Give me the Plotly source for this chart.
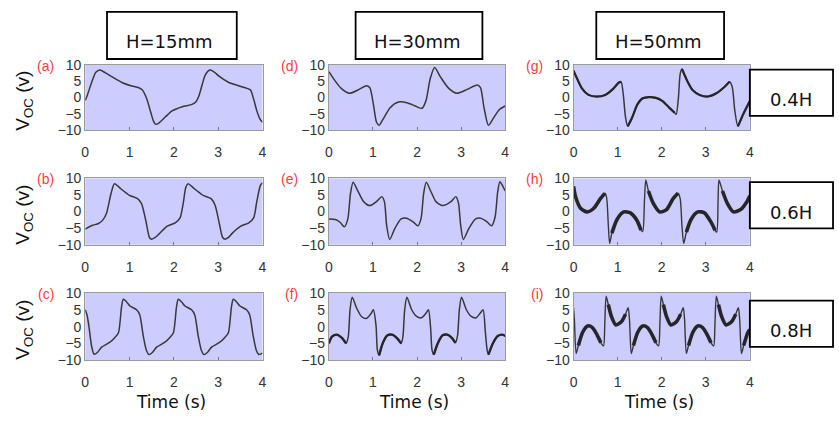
import plotly.graph_objects as go

W, H = 839, 427          # browser window (body margin removed by post_script below)

# ---------------- data ----------------
time_a = [0, 0.05, 0.15, 0.24, 0.33, 0.45, 0.61, 0.84, 1.03, 1.21, 1.29, 1.38, 1.48, 1.54, 1.59, 1.66,
          1.81, 1.96, 2.19, 2.41, 2.50, 2.56, 2.64, 2.71, 2.81, 2.92, 3.01, 3.24, 3.46, 3.65, 3.73, 3.80,
          3.87, 3.94, 4.0]
voc_a = [-0.9, 0.8, 4.8, 7.7, 8.4, 7.6, 6.3, 4.5, 3.6, 3.0, 2.3, -0.1, -4.6, -7.2, -8.2, -7.8,
         -5.9, -4.1, -2.8, -2.1, -1.3, 0.3, 4.0, 6.9, 8.4, 7.7, 6.6, 4.6, 3.6, 2.8, 2.3, -0.5,
         -4.0, -6.5, -7.6]

time_b = [0, 0.15, 0.30, 0.40, 0.48, 0.58, 0.66, 0.81, 1.0, 1.18, 1.27, 1.37, 1.45, 1.50, 1.58, 1.66,
          1.85, 2.03, 2.14, 2.21, 2.27, 2.32, 2.47, 2.66, 2.84, 2.93, 3.03, 3.10, 3.16, 3.24, 3.32,
          3.51, 3.69, 3.80, 3.87, 3.95, 4.0]
voc_b = [-5.3, -4.2, -3.6, -2.5, -0.5, 5.3, 8.4, 6.8, 4.9, 3.9, 2.4, -2.9, -7.8, -8.3, -7.8, -6.8,
         -4.4, -3.4, -1.9, 2.4, 7.3, 8.4, 6.8, 4.9, 3.9, 1.9, -3.9, -7.8, -8.3, -7.7, -6.5,
         -4.4, -3.4, -1.9, 2.9, 7.8, 8.7]

time_c = [0, 0.04, 0.09, 0.14, 0.20, 0.28, 0.37, 0.55, 0.67, 0.75, 0.82, 0.86, 0.93, 1.01, 1.16, 1.23,
          1.31, 1.38, 1.44, 1.52, 1.61, 1.79, 1.91, 1.99, 2.06, 2.10, 2.17, 2.25, 2.40, 2.47, 2.55,
          2.62, 2.68, 2.76, 2.85, 3.03, 3.15, 3.23, 3.30, 3.34, 3.41, 3.49, 3.64, 3.71, 3.79, 3.86,
          3.92, 4.0]
voc_c = [5.0, 3.5, -0.5, -5.5, -8.2, -7.6, -6.1, -4.7, -3.2, -1.8, 5.9, 8.1, 7.4, 6.1, 5.0, 3.5,
         -2.8, -7.0, -8.3, -7.6, -6.1, -4.7, -3.2, -1.8, 5.9, 8.1, 7.4, 6.1, 5.0, 3.5, -2.8,
         -7.0, -8.3, -7.6, -6.1, -4.7, -3.2, -1.8, 5.9, 8.1, 7.4, 6.1, 5.0, 3.5, -2.8, -7.0,
         -8.3, -7.9]

time_d = [0, 0.13, 0.28, 0.47, 0.66, 0.85, 0.93, 1.01, 1.08, 1.14, 1.23, 1.39, 1.58, 1.77, 1.96, 2.11,
          2.20, 2.30, 2.40, 2.53, 2.72, 2.91, 3.14, 3.37, 3.44, 3.52, 3.62, 3.72, 3.86, 4.0]
voc_d = [7.9, 5.3, 2.8, 1.3, 2.3, 3.6, 3.0, -2.1, -7.5, -8.5, -6.6, -3.1, -1.4, -1.6, -2.6, -3.3,
         -1.1, 5.8, 9.2, 6.3, 2.8, 1.3, 2.5, 3.8, 3.0, -3.1, -8.5, -6.6, -3.8, -2.6]

time_e = [0, 0.15, 0.26, 0.35, 0.43, 0.49, 0.55, 0.65, 0.79, 0.93, 1.08, 1.20, 1.26, 1.31, 1.38, 1.50,
          1.64, 1.76, 1.91, 2.02, 2.09, 2.15, 2.21, 2.32, 2.43, 2.58, 2.77, 2.88, 2.94, 2.99, 3.05,
          3.18, 3.33, 3.44, 3.59, 3.69, 3.77, 3.83, 3.88, 3.96, 4.0]
voc_e = [-2.2, -2.4, -3.3, -4.6, -2.2, 5.4, 8.8, 6.4, 3.0, 1.8, 3.0, 4.5, 3.0, -4.1, -8.4, -5.0,
         -2.2, -2.0, -3.1, -4.3, -2.2, 5.4, 8.8, 5.9, 3.0, 1.8, 3.0, 4.5, 2.6, -4.1, -8.4,
         -5.0, -2.2, -2.0, -3.1, -4.3, -1.7, 5.9, 9.0, 7.3, 6.2]

time_f = [0, 0.07, 0.18, 0.29, 0.39, 0.44, 0.48, 0.53, 0.63, 0.74, 0.85, 0.96, 1.01, 1.07, 1.10, 1.14,
          1.22, 1.33, 1.44, 1.55, 1.64, 1.68, 1.72, 1.77, 1.88, 1.99, 2.10, 2.21, 2.26, 2.31, 2.34,
          2.38, 2.47, 2.58, 2.69, 2.80, 2.87, 2.92, 2.96, 3.01, 3.12, 3.23, 3.34, 3.44, 3.50, 3.55,
          3.59, 3.62, 3.72, 3.83, 3.94, 4.0]
voc_f = [-5.0, -3.0, -2.4, -3.3, -5.0, -3.0, 5.0, 8.7, 5.5, 3.0, 2.4, 3.9, 5.0, 0.3, -6.9, -8.5,
         -5.0, -2.6, -2.4, -3.5, -5.0, -3.0, 5.0, 8.7, 5.0, 3.0, 2.6, 4.1, 5.0, -0.7, -6.9,
         -8.3, -5.0, -2.6, -2.4, -3.5, -4.8, -2.6, 5.0, 8.7, 5.0, 3.0, 2.6, 4.1, 5.0, -1.6,
         -6.9, -8.3, -5.0, -2.8, -2.4, -2.8]

time_g = [0, 0.08, 0.19, 0.34, 0.53, 0.72, 0.91, 1.03, 1.08, 1.13, 1.18, 1.23, 1.33, 1.45, 1.56, 1.71,
          1.87, 2.02, 2.17, 2.29, 2.33, 2.38, 2.42, 2.46, 2.51, 2.59, 2.70, 2.86, 3.05, 3.24, 3.43,
          3.54, 3.60, 3.66, 3.73, 3.85, 4.0]
voc_g = [8.2, 5.8, 2.8, 0.8, 0.3, 0.8, 2.8, 4.6, 4.8, 0.8, -6.1, -8.8, -6.1, -2.1, -0.3, 0.1,
         -0.1, -1.1, -3.1, -4.6, -5.1, -0.1, 7.2, 8.7, 7.2, 4.8, 2.3, 0.8, 0.3, 1.3, 3.3,
         4.8, 3.3, -4.1, -8.8, -5.1, -1.1]

time_h = [0, 0.05, 0.16, 0.31, 0.46, 0.61, 0.71, 0.75, 0.79, 0.82, 0.87, 0.99, 1.14, 1.29, 1.44, 1.53,
          1.57, 1.61, 1.64, 1.70, 1.81, 1.96, 2.11, 2.26, 2.37, 2.42, 2.46, 2.50, 2.56, 2.67, 2.82,
          2.97, 3.12, 3.21, 3.25, 3.28, 3.30, 3.38, 3.49, 3.63, 3.79, 3.93, 4.0]
voc_h = [7.6, 4.3, 1.0, -0.1, 1.0, 3.9, 5.5, 4.3, -4.2, -9.6, -6.5, -2.3, -0.1, -0.4, -2.7, -5.6,
         -6.0, 3.4, 9.5, 6.2, 2.5, -0.1, 0.6, 3.9, 5.5, 3.9, -4.2, -9.6, -6.2, -2.3, -0.1,
         -0.4, -3.2, -5.6, -6.2, 3.4, 9.5, 6.2, 2.5, -0.1, 0.6, 2.9, 4.8]

time_i = [0, 0.02, 0.06, 0.11, 0.21, 0.32, 0.43, 0.54, 0.62, 0.68, 0.71,
          0.74, 0.79, 0.86, 0.96, 1.09, 1.18, 1.24, 1.27, 1.31, 1.36, 1.46, 1.57, 1.68, 1.79, 1.87, 1.93, 1.96,
          1.99, 2.04, 2.11, 2.21, 2.34, 2.43, 2.49, 2.52, 2.56, 2.61, 2.71, 2.82, 2.93, 3.04, 3.12, 3.18, 3.21,
          3.24, 3.29, 3.36, 3.46, 3.59, 3.68, 3.74, 3.77, 3.81, 3.86, 3.96, 4.0]
voc_i = [5.6, 2.0, -8.0, -5.6, -1.6, 0.2, -0.3, -2.6, -4.8, -5.7, 1.0,
         9.0, 6.5, 3.0, 0.5, 1.5, 3.7, 5.6, 2.0, -8.0, -5.6, -1.6, 0.2, -0.3, -2.6, -4.8, -5.7, 1.0,
         9.0, 6.5, 3.0, 0.5, 1.5, 3.7, 5.6, 2.0, -8.0, -5.6, -1.6, 0.2, -0.3, -2.6, -4.8, -5.7, 1.0,
         9.0, 6.5, 3.0, 0.5, 1.5, 3.7, 5.6, 2.0, -8.0, -5.6, -1.6, -0.9]

panel_labels = ["(a)", "(b)", "(c)", "(d)", "(e)", "(f)", "(g)", "(h)", "(i)"]
column_titles = ["H=15mm", "H=30mm", "H=50mm"]
row_titles = ["0.4H", "0.6H", "0.8H"]
x_ticks = [0, 1, 2, 3, 4]
y_ticks = [-10, -5, 0, 5, 10]
x_title = "Time (s)"
y_title = "V<sub>OC</sub> (v)"

series = [(time_a, voc_a), (time_b, voc_b), (time_c, voc_c),
          (time_d, voc_d), (time_e, voc_e), (time_f, voc_f),
          (time_g, voc_g), (time_h, voc_h), (time_i, voc_i)]

# ---------------- styling / geometry (window pixels) ----------------
col_px = [(82, 261), (328, 506), (575, 753)]
row_px = [(59, 127), (177, 246), (296, 366)]
line_w = [1.5, 1.5, 1.5, 1.5, 1.5, 1.5, 1.5, 1.4, 1.4]
# noisy (vibration) band drawn thicker on the slow parts of the signal: (width, only negative?)
band = {5: (2.4, True), 6: (2.2, False), 7: (3.6, False), 8: (3.6, False)}
STEEP = 100.0   # V/s: segments steeper than this stay thin


def fx(x):
    return x / W


def fy(y):
    return 1 - y / H


def slow_part(t, v, neg_only):
    out = []
    for i in range(len(t)):
        s = []
        if i > 0:
            s.append(abs((v[i] - v[i - 1]) / (t[i] - t[i - 1])))
        if i < len(t) - 1:
            s.append(abs((v[i + 1] - v[i]) / (t[i + 1] - t[i])))
        ok = max(s) < STEEP and (not neg_only or v[i] < -1.0)
        out.append(v[i] if ok else None)
    return out


fig = go.Figure()
annotations = []
shapes = []

for k, (t, v) in enumerate(series):
    assert len(t) == len(v), panel_labels[k]
    c, r = k // 3, k % 3
    n = k + 1
    xa = "x" if n == 1 else f"x{n}"
    ya = "y" if n == 1 else f"y{n}"
    fig.add_trace(go.Scatter(
        x=t, y=v, xaxis=xa, yaxis=ya, mode="lines",
        line=dict(color="#383838", width=line_w[k], shape="spline", smoothing=0.7),
        showlegend=False, hoverinfo="skip"))
    if k in band:
        bw, neg = band[k]
        fig.add_trace(go.Scatter(
            x=t, y=slow_part(t, v, neg), xaxis=xa, yaxis=ya, mode="lines", connectgaps=False,
            line=dict(color="#262626", width=bw, shape="spline", smoothing=0.7),
            showlegend=False, hoverinfo="skip"))
    x0, x1 = col_px[c]
    y0, y1 = row_px[r]
    axis_common = dict(showgrid=False, zeroline=False, showline=True, mirror=True,
                       linecolor="#9a9a9a", linewidth=1, fixedrange=True,
                       tickfont=dict(family="Liberation Sans, Arial", size=14, color="#333333"))
    fig.layout[f"xaxis{'' if n == 1 else n}"] = dict(
        domain=[fx(x0), fx(x1)], anchor=ya, range=[0, 4], tickvals=x_ticks,
        ticks="inside", ticklen=3, tickcolor="#777777", ticklabelstandoff=9, **axis_common)
    fig.layout[f"yaxis{'' if n == 1 else n}"] = dict(
        domain=[fy(y1), fy(y0)], anchor=xa, range=[-10, 10], tickvals=y_ticks,
        ticks="", ticklabelstandoff=0, **axis_common)
    # red panel label
    annotations.append(dict(
        x=fx(x0 - 29), y=fy(y0 + 1), xref="paper", yref="paper", xanchor="right", yanchor="middle",
        text=panel_labels[k], showarrow=False,
        font=dict(family="Liberation Sans, Arial", size=14, color="#ff3b3b")))

# y-axis titles (left column)
for r, (y0, y1) in enumerate(row_px):
    annotations.append(dict(
        x=fx(20.5), y=fy((y0 + y1) / 2 + 3), xref="paper", yref="paper",
        xanchor="center", yanchor="middle", textangle=-90, text=y_title, showarrow=False,
        font=dict(family="Liberation Sans, Arial", size=19, color="#111111")))

# x-axis titles (bottom row)
for c, (x0, x1) in enumerate(col_px):
    annotations.append(dict(
        x=fx((x0 + x1) / 2 - 3), y=fy(409), xref="paper", yref="paper",
        xanchor="center", yanchor="middle", text=x_title, showarrow=False,
        font=dict(family="DejaVu Sans", size=17, color="#111111")))

# column title boxes
col_box = [(104, 235), (355, 483), (598, 727)]
for c, (bx0, bx1) in enumerate(col_box):
    shapes.append(dict(type="rect", xref="paper", yref="paper",
                       x0=fx(bx0), x1=fx(bx1), y0=fy(53), y1=fy(4),
                       line=dict(color="#000000", width=1.8), fillcolor="rgba(0,0,0,0)"))
    annotations.append(dict(
        x=fx((bx0 + bx1) / 2 - 2), y=fy(35), xref="paper", yref="paper",
        xanchor="center", yanchor="middle", text=column_titles[c], showarrow=False,
        font=dict(family="DejaVu Sans", size=18, color="#111111")))

# row title boxes
row_box = [(64, 112), (181, 229), (304, 352)]
for r, (by0, by1) in enumerate(row_box):
    shapes.append(dict(type="rect", xref="paper", yref="paper",
                       x0=fx(753), x1=fx(837), y0=fy(by1), y1=fy(by0),
                       line=dict(color="#000000", width=1.8), fillcolor="rgba(0,0,0,0)"))
    annotations.append(dict(
        x=fx(795), y=fy(by0 + 31), xref="paper", yref="paper",
        xanchor="center", yanchor="middle", text=row_titles[r], showarrow=False,
        font=dict(family="DejaVu Sans", size=18, color="#111111")))

fig.update_layout(
    width=W, height=H, margin=dict(l=0, r=0, t=0, b=0),
    paper_bgcolor="white", plot_bgcolor="#ccccff",
    annotations=annotations, shapes=shapes, showlegend=False)

fig.write_html("out.html", config={"displayModeBar": False, "staticPlot": True},
               post_script="document.body.style.margin='0';document.body.style.overflow='hidden';")
